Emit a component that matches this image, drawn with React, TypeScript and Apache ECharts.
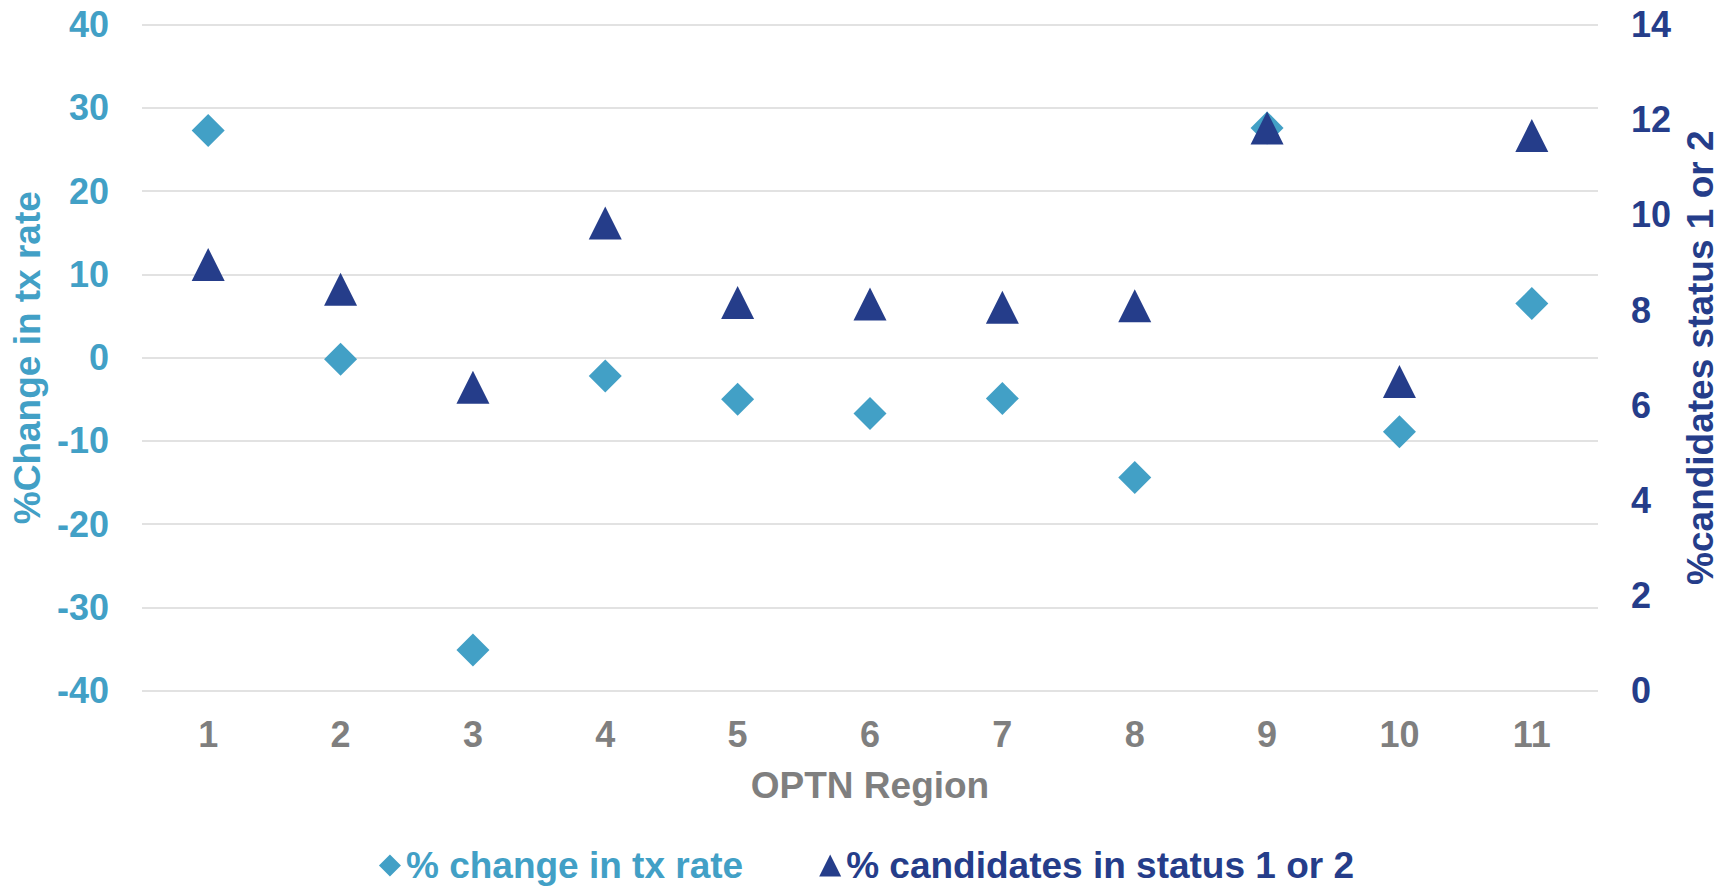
import React, { useEffect, useRef } from "react";
import * as echarts from "echarts";

const regions = ["1", "2", "3", "4", "5", "6", "7", "8", "9", "10", "11"];
const txRateChange = [27.3, -0.2, -35.1, -2.2, -5.0, -6.7, -4.9, -14.4, 27.6, -8.9, 6.5];
const statusPct = [8.96, 8.44, 6.38, 9.83, 8.16, 8.13, 8.06, 8.09, 11.83, 6.5, 11.67];

const seriesNames = ["% change in tx rate", "% candidates in status 1 or 2"];
const LIGHT = "#42A0C6";
const DARK = "#253D8A";
const GRAY = "#7F7F7F";
const FONT = "'Liberation Sans', Arial, sans-serif";

export default function App() {
  const ref = useRef<HTMLDivElement>(null);
  useEffect(() => {
    document.body.style.margin = "0";
    if (!ref.current) return;
    const chart = echarts.init(ref.current, undefined, { renderer: "svg" });
    chart.setOption({
      animation: false,
      backgroundColor: "#ffffff",
      textStyle: { fontFamily: FONT, fontWeight: "bold" },
      grid: { left: 142, right: 135, top: 24.7, bottom: 195.3, containLabel: false },
      legend: {
        left: "center",
        top: 842,
        itemWidth: 22,
        itemHeight: 22,
        itemGap: 76,
        data: [
          { name: seriesNames[0], icon: "diamond", itemStyle: { color: LIGHT, opacity: 1 }, textStyle: { color: LIGHT } },
          { name: seriesNames[1], icon: "triangle", itemStyle: { color: DARK, opacity: 1 }, textStyle: { color: DARK } },
        ],
        textStyle: { fontFamily: FONT, fontWeight: "bold", fontSize: 37 },
      },
      xAxis: {
        type: "category",
        data: regions,
        boundaryGap: true,
        name: "OPTN Region",
        nameLocation: "middle",
        nameGap: 76,
        nameTextStyle: { color: GRAY, fontSize: 37, fontWeight: "bold", fontFamily: FONT },
        axisLine: { show: false },
        axisTick: { show: false },
        axisLabel: { color: GRAY, fontSize: 36, fontWeight: "bold", fontFamily: FONT, margin: 26 },
      },
      yAxis: [
        {
          type: "value",
          min: -40,
          max: 40,
          interval: 10,
          name: "%Change in tx rate",
          nameLocation: "middle",
          nameRotate: 90,
          nameGap: 93,
          nameTextStyle: { color: LIGHT, fontSize: 37, fontWeight: "bold", fontFamily: FONT },
          axisLine: { show: false },
          axisTick: { show: false },
          axisLabel: { color: LIGHT, fontSize: 36, fontWeight: "bold", fontFamily: FONT, margin: 33 },
          splitLine: { show: true, lineStyle: { color: "#D9D9D9", width: 1.5 } },
        },
        {
          type: "value",
          min: 0,
          max: 14,
          interval: 2,
          position: "right",
          name: "%candidates status 1 or 2",
          nameLocation: "middle",
          nameRotate: 90,
          nameGap: 83,
          nameTextStyle: { color: DARK, fontSize: 37, fontWeight: "bold", fontFamily: FONT },
          axisLine: { show: false },
          axisTick: { show: false },
          axisLabel: { color: DARK, fontSize: 36, fontWeight: "bold", fontFamily: FONT, margin: 33 },
          splitLine: { show: false },
        },
      ],
      series: [
        {
          name: seriesNames[0],
          type: "scatter",
          yAxisIndex: 0,
          symbol: "diamond",
          symbolSize: 33,
          itemStyle: { color: LIGHT, opacity: 1 },
          data: txRateChange,
        },
        {
          name: seriesNames[1],
          type: "scatter",
          yAxisIndex: 1,
          symbol: "triangle",
          symbolSize: 33,
          itemStyle: { color: DARK, opacity: 1 },
          data: statusPct,
        },
      ],
    });
    return () => chart.dispose();
  }, []);
  return <div ref={ref} style={{ width: 1733, height: 886 }} />;
}
